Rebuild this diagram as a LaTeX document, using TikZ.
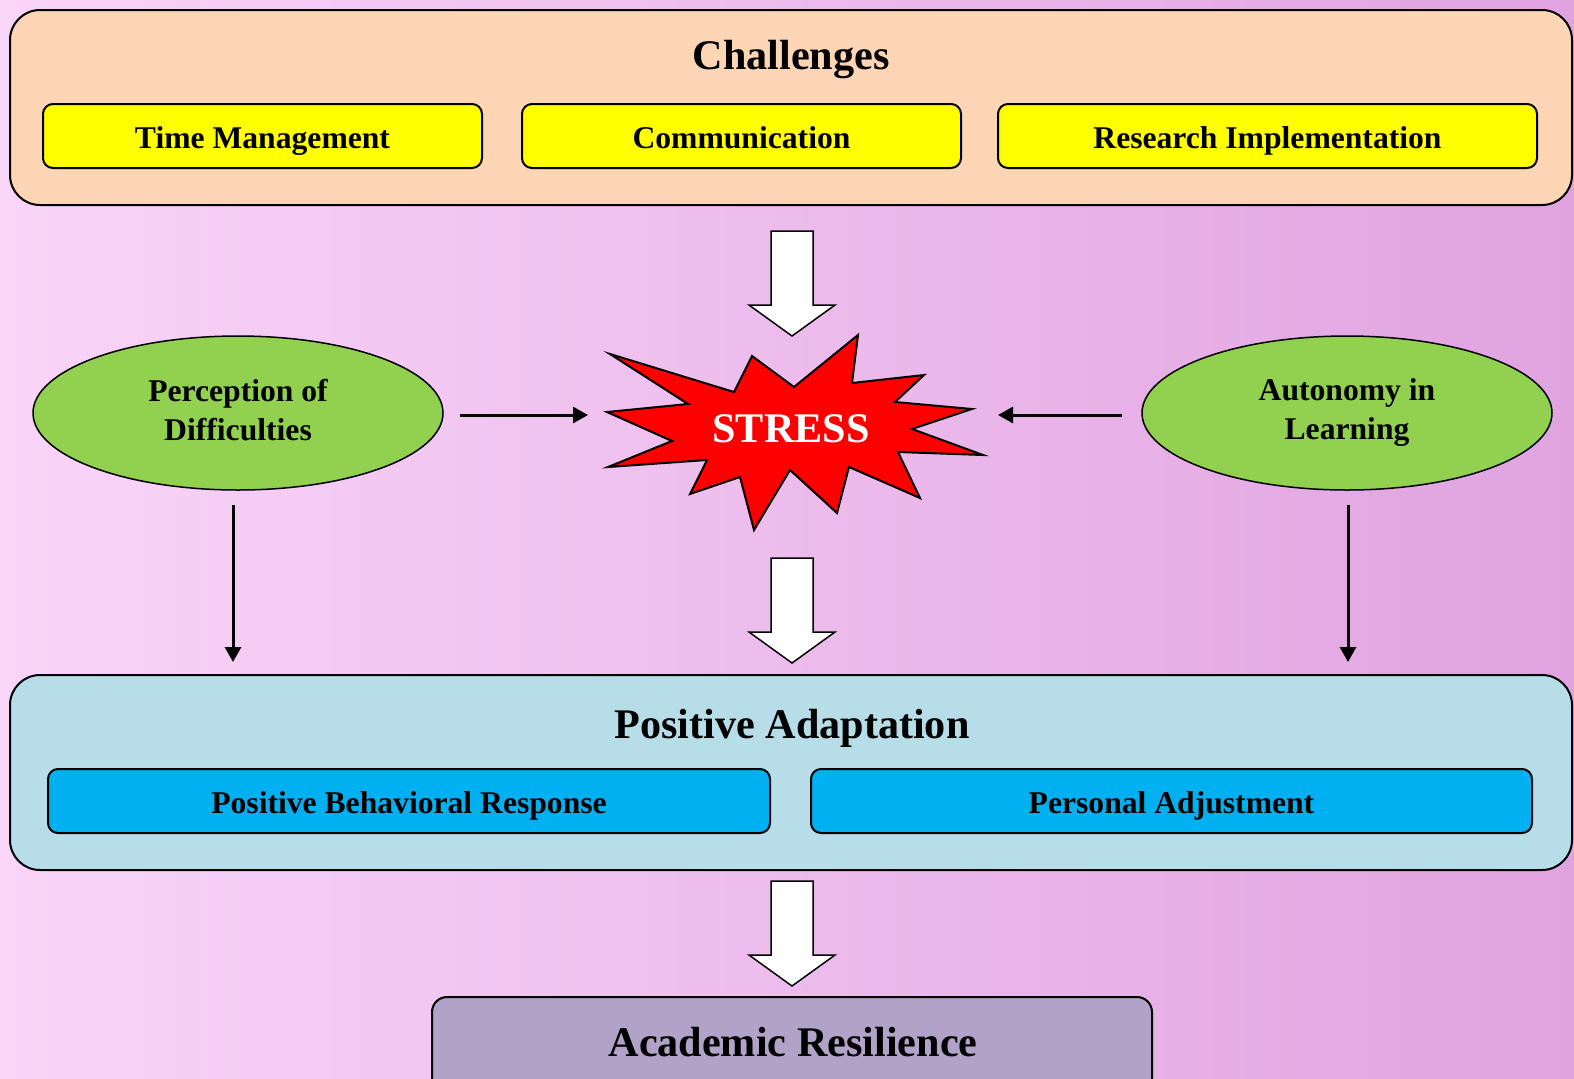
\documentclass[tikz,border=0pt]{standalone}
\usepackage{fontspec}
\setmainfont{Liberation Serif}
\usetikzlibrary{shapes.geometric,arrows.meta}
\definecolor{bgleft}{HTML}{F9D5F8}
\definecolor{bgright}{HTML}{E0A3E0}
\definecolor{peach}{HTML}{FCD5B5}
\definecolor{leaf}{HTML}{92D050}
\definecolor{paleblue}{HTML}{B7DDE8}
\definecolor{skyblue}{HTML}{00B0F0}
\definecolor{lavender}{HTML}{B1A2C7}
\definecolor{lemon}{HTML}{FFFF00}
\begin{document}
\begin{tikzpicture}[x=0.1mm,y=-0.1mm,
        panel/.style = {draw,
            line width=0.2mm,
            rounded corners=3mm,
            inner sep=0pt
            },
        item/.style = {draw,
            line width=0.2mm,
            rounded corners=1mm,
            inner sep=0pt,
            minimum height=6.4mm,
            text height=3mm,
            text depth=0.6mm,
            font=\fontsize{9}{11}\selectfont\bfseries
            },
        oval/.style = {ellipse,
            draw,
            fill=leaf,
            line width=0.15mm,
            inner sep=0pt,
            minimum width=41mm,
            minimum height=15.4mm,
            align=center,
            font=\fontsize{9}{11.1}\selectfont\bfseries
            },
        title/.style = {font=\fontsize{12}{14}\selectfont\bfseries},
        link/.style = {line width=0.3mm,
            -{Triangle[length=1.5mm,width=1.6mm]}},
        block/.style = {draw, fill=white, line width=0.15mm}]

    \useasboundingbox (0,0) rectangle (1574,1078);
    \clip (0,0) rectangle (1574,1078);

    % Background
    \shade[left color=bgleft, right color=bgright] (0,0) rectangle (1574,1078);

    % Challenges
    \node[panel, fill=peach, minimum width=156.2mm, minimum height=19.5mm] (chal) at (791,107.5) {};
    \node[title] (chaltitle) at (791,60) {Challenges};
    \node[item, fill=lemon, minimum width=43.9mm] (time) at (262.5,136) {Time Management};
    \node[item, fill=lemon, minimum width=43.9mm] (comm) at (741.5,136) {Communication};
    \node[item, fill=lemon, minimum width=53.9mm] (research) at (1267.5,136) {Research Implementation};

    % Side factors
    \node[oval] (perc) at (238,413) {Perception of\\Difficulties\vphantom{g}};
    \node[oval] (auto) at (1347,413) {Autonomy in\\Learning};

    % Stress
    \draw[fill=red, line width=0.2mm] (610,354) -- (734,392) -- (752,356) -- (794,387)
        -- (858,335) -- (852,383) -- (924,375) -- (895,402) -- (972,409) -- (912,429)
        -- (983,455) -- (898,452) -- (920,498) -- (849,467) -- (837,513) -- (790,470)
        -- (754,530) -- (740,477) -- (690,494) -- (707,460) -- (608,467) -- (672,441)
        -- (607,412) -- (688,404) -- cycle;
    \node[title, text=white] (stress) at (791,429) {STRESS};

    % Positive Adaptation
    \node[panel, fill=paleblue, minimum width=156.2mm, minimum height=19.5mm] (adapt) at (791,772.5) {};
    \node[title] (adapttitle) at (792,728) {Positive Adaptation};
    \node[item, fill=skyblue, minimum width=72.2mm] (behav) at (409,801) {Positive Behavioral Response};
    \node[item, fill=skyblue, minimum width=72.1mm] (adjust) at (1171.5,801) {Personal Adjustment};

    % Academic Resilience
    \node[panel, rounded corners=1.5mm, fill=lavender, minimum width=72mm, minimum height=10mm] (acad) at (792,1047) {};
    \node[title] (acadtitle) at (793,1042) {Academic Resilience};

    % Block arrows
    \foreach \t in {231,558,881}
        \draw[block] (771,\t) -- (813,\t) -- (813,\t+74) -- (835,\t+74) -- (792,\t+105)
            -- (749,\t+74) -- (771,\t+74) -- cycle;

    % Thin arrows
    \coordinate (perc-e) at (460,415);
    \coordinate (stress-w) at (588,415);
    \coordinate (auto-w) at (1122,415);
    \coordinate (stress-e) at (998,415);
    \coordinate (perc-s) at (233,505);
    \coordinate (adapt-l) at (233,662);
    \coordinate (auto-s) at (1348,505);
    \coordinate (adapt-r) at (1348,662);
    \draw[link] (perc-e) -- (stress-w);
    \draw[link] (auto-w) -- (stress-e);
    \draw[link] (perc-s) -- (adapt-l);
    \draw[link] (auto-s) -- (adapt-r);

\end{tikzpicture}
\end{document}
